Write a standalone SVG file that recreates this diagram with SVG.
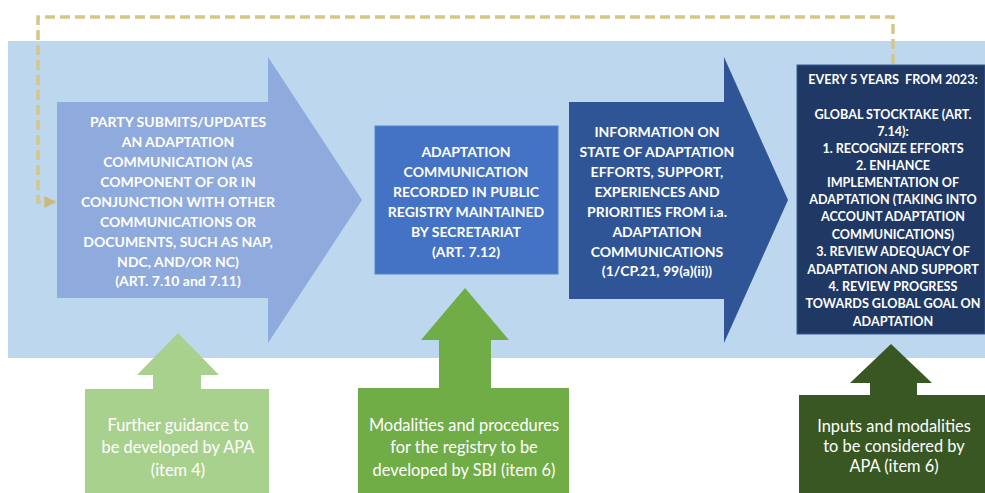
<svg xmlns="http://www.w3.org/2000/svg" width="985" height="493" viewBox="0 0 985 493">
<style>
.hd{font-family:Lato,"Open Sans","Liberation Sans",sans-serif;font-weight:bold;fill:#fff;text-anchor:middle;font-size:14px}
.sm{font-size:12.6px}
.gt{font-family:Lato,"Open Sans","Liberation Sans",sans-serif;fill:#fff;text-anchor:middle;font-size:16.4px}
</style>
<defs>
<marker id="ah" viewBox="0 0 10 10" refX="9" refY="5" markerWidth="3.4" markerHeight="3.4" orient="auto" markerUnits="strokeWidth">
<path d="M0,0 L10,5 L0,10 Z" fill="#C9B97A"/>
</marker>
</defs>
<rect width="985" height="493" fill="#fff"/>
<rect id="band" x="8" y="41" width="977" height="317" fill="#BDD7EE"/>

<g id="connectors">
<path d="M893,64 V17 H38 V202 H55" fill="none" stroke="#D6C68A" stroke-width="3.5" stroke-dasharray="10 5" marker-end="url(#ah)"/>
</g>

<g id="n1">
<path d="M57,102 H268 V57 L362,200 L268,343 V298 H57 Z" fill="#8FAADC"/>
<text class="hd"><tspan x="178" y="127">PARTY SUBMITS/UPDATES</tspan><tspan x="178" y="147">AN ADAPTATION</tspan><tspan x="178" y="167">COMMUNICATION (AS</tspan><tspan x="178" y="187">COMPONENT OF OR IN</tspan><tspan x="178" y="207">CONJUNCTION WITH OTHER</tspan><tspan x="178" y="227">COMMUNICATIONS OR</tspan><tspan x="178" y="247">DOCUMENTS, SUCH AS NAP,</tspan><tspan x="178" y="267">NDC, AND/OR NC)</tspan><tspan x="178" y="286">(ART. 7.10 and 7.11)</tspan></text>
</g>

<g id="n2">
<rect x="375" y="126" width="183" height="148" fill="#4472C4" stroke="#5B86D0" stroke-width="1"/>
<text class="hd"><tspan x="466" y="157">ADAPTATION</tspan><tspan x="466" y="177">COMMUNICATION</tspan><tspan x="466" y="197">RECORDED IN PUBLIC</tspan><tspan x="466" y="217">REGISTRY MAINTAINED</tspan><tspan x="466" y="237">BY SECRETARIAT</tspan><tspan x="466" y="257">(ART. 7.12)</tspan></text>
</g>

<g id="n3">
<path d="M569,102 H724 V57 L788,200 L724,343 V299 H569 Z" fill="#2F5597"/>
<text class="hd"><tspan x="657" y="137">INFORMATION ON</tspan><tspan x="657" y="157">STATE OF ADAPTATION</tspan><tspan x="657" y="177">EFFORTS, SUPPORT,</tspan><tspan x="657" y="197">EXPERIENCES AND</tspan><tspan x="657" y="217">PRIORITIES FROM i.a.</tspan><tspan x="657" y="237">ADAPTATION</tspan><tspan x="657" y="257">COMMUNICATIONS</tspan><tspan x="657" y="276">(1/CP.21, 99(a)(ii))</tspan></text>
</g>

<g id="n4">
<rect x="797" y="65" width="188" height="269" fill="#203864" stroke="#3A5B8F" stroke-width="1"/>
<text class="hd sm" xml:space="preserve"><tspan x="893" y="84">EVERY 5 YEARS  FROM 2023:</tspan><tspan x="893" y="119">GLOBAL STOCKTAKE (ART.</tspan><tspan x="893" y="136">7.14):</tspan><tspan x="893" y="153">1. RECOGNIZE EFFORTS</tspan><tspan x="893" y="170">2. ENHANCE</tspan><tspan x="893" y="187">IMPLEMENTATION OF</tspan><tspan x="893" y="204">ADAPTATION (TAKING INTO</tspan><tspan x="893" y="221">ACCOUNT ADAPTATION</tspan><tspan x="893" y="239">COMMUNICATIONS)</tspan><tspan x="893" y="256">3. REVIEW ADEQUACY OF</tspan><tspan x="893" y="274">ADAPTATION AND SUPPORT</tspan><tspan x="893" y="291">4. REVIEW PROGRESS</tspan><tspan x="893" y="308">TOWARDS GLOBAL GOAL ON</tspan><tspan x="893" y="326">ADAPTATION</tspan></text>
</g>

<g id="g1">
<path d="M85,389 H153 V375 H137 L178,333 L219,375 H201 V389 H269 V493 H85 Z" fill="#A9D18E"/>
<text class="gt"><tspan x="178" y="431">Further guidance to</tspan><tspan x="178" y="453">be developed by APA</tspan><tspan x="178" y="476">(item 4)</tspan></text>
</g>

<g id="g2">
<path d="M358,388 H439 V340 H421 L465,288 L509,340 H491 V388 H569 V493 H358 Z" fill="#70AD47"/>
<text class="gt"><tspan x="464" y="431">Modalities and procedures</tspan><tspan x="464" y="453">for the registry to be</tspan><tspan x="464" y="476">developed by SBI (item 6)</tspan></text>
</g>

<g id="g3">
<path d="M799,395 H870 V383 H850 L891,344 L932,383 H917 V395 H985 V493 H799 Z" fill="#385723"/>
<text class="gt"><tspan x="894" y="432">Inputs and modalities</tspan><tspan x="894" y="452">to be considered by</tspan><tspan x="894" y="472">APA (item 6)</tspan></text>
</g>
</svg>
